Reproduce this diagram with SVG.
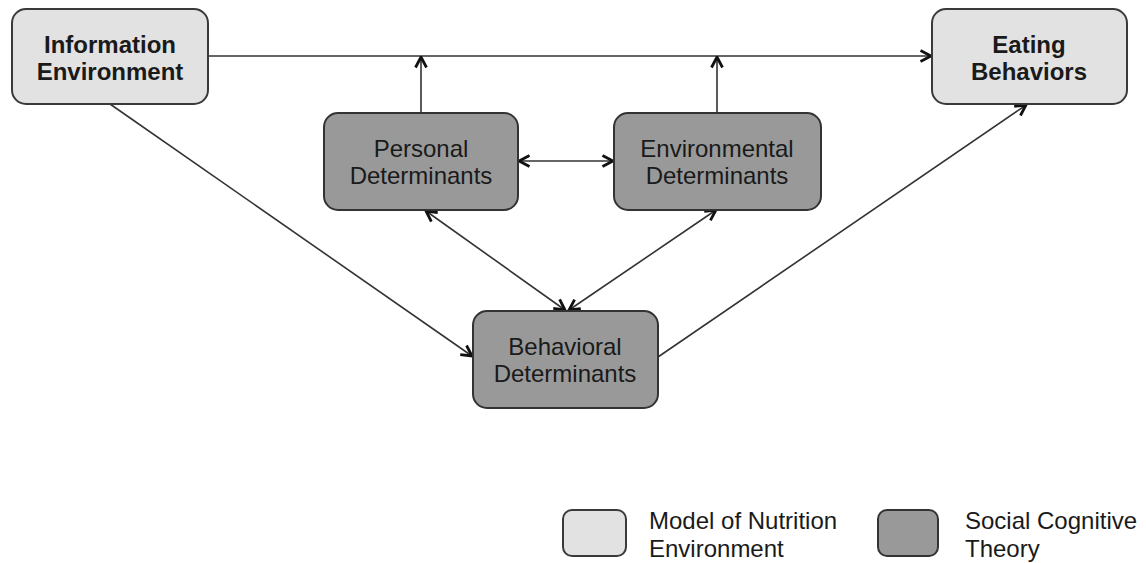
<svg xmlns="http://www.w3.org/2000/svg" width="1146" height="563" viewBox="0 0 1146 563">
<defs>
<style>
.light{fill:#e2e2e2;stroke:#3a3a3a;stroke-width:2}
.dark{fill:#999999;stroke:#333333;stroke-width:2}
.t{font-family:"Liberation Sans",Arial,sans-serif;font-size:24px;fill:#1a1a1a;text-anchor:middle}
.b{font-weight:bold}
.lt{font-family:"Liberation Sans",Arial,sans-serif;font-size:24px;fill:#1a1a1a}
.c{fill:none;stroke:#333333;stroke-width:1.6}
</style>
<marker id="ah" viewBox="0 0 14 14" refX="12.5" refY="7" markerWidth="14" markerHeight="14" markerUnits="userSpaceOnUse" orient="auto-start-reverse">
<path d="M2,1.5 L12.5,7 L2,12.5" fill="none" stroke="#111" stroke-width="2.8"/>
</marker>
</defs>
<rect width="1146" height="563" fill="#ffffff"/>
<g id="connectors">
<line class="c" x1="208" y1="56" x2="931" y2="56" marker-end="url(#ah)"/>
<line class="c" x1="421" y1="113" x2="421" y2="57" marker-end="url(#ah)"/>
<line class="c" x1="717" y1="113" x2="717" y2="57" marker-end="url(#ah)"/>
<line class="c" x1="519" y1="161" x2="613" y2="161" marker-start="url(#ah)" marker-end="url(#ah)"/>
<line class="c" x1="110" y1="104" x2="472" y2="356" marker-end="url(#ah)"/>
<line class="c" x1="426" y1="211" x2="565" y2="310" marker-start="url(#ah)" marker-end="url(#ah)"/>
<line class="c" x1="716" y1="210" x2="569" y2="310" marker-start="url(#ah)" marker-end="url(#ah)"/>
<line class="c" x1="658" y1="357" x2="1026" y2="105" marker-end="url(#ah)"/>
</g>
<g id="information-environment">
<rect class="light" x="12" y="9" width="196" height="95" rx="14"/>
<text class="t b" x="110" y="53">Information</text>
<text class="t b" x="110" y="80">Environment</text>
</g>
<g id="eating-behaviors">
<rect class="light" x="932" y="9" width="195" height="95" rx="14"/>
<text class="t b" x="1029" y="53">Eating</text>
<text class="t b" x="1029" y="80">Behaviors</text>
</g>
<g id="personal-determinants">
<rect class="dark" x="324" y="113" width="194" height="97" rx="14"/>
<text class="t" x="421" y="157">Personal</text>
<text class="t" x="421" y="184">Determinants</text>
</g>
<g id="environmental-determinants">
<rect class="dark" x="614" y="113" width="207" height="97" rx="14"/>
<text class="t" x="717" y="157">Environmental</text>
<text class="t" x="717" y="184">Determinants</text>
</g>
<g id="behavioral-determinants">
<rect class="dark" x="473" y="311" width="185" height="97" rx="14"/>
<text class="t" x="565" y="355">Behavioral</text>
<text class="t" x="565" y="382">Determinants</text>
</g>
<g id="legend">
<rect class="light" x="563" y="510" width="63" height="46" rx="9"/>
<text class="lt" x="649" y="529">Model of Nutrition</text>
<text class="lt" x="649" y="557">Environment</text>
<rect class="dark" x="878" y="510" width="60" height="46" rx="9"/>
<text class="lt" x="965" y="529">Social Cognitive</text>
<text class="lt" x="965" y="557">Theory</text>
</g>
</svg>
